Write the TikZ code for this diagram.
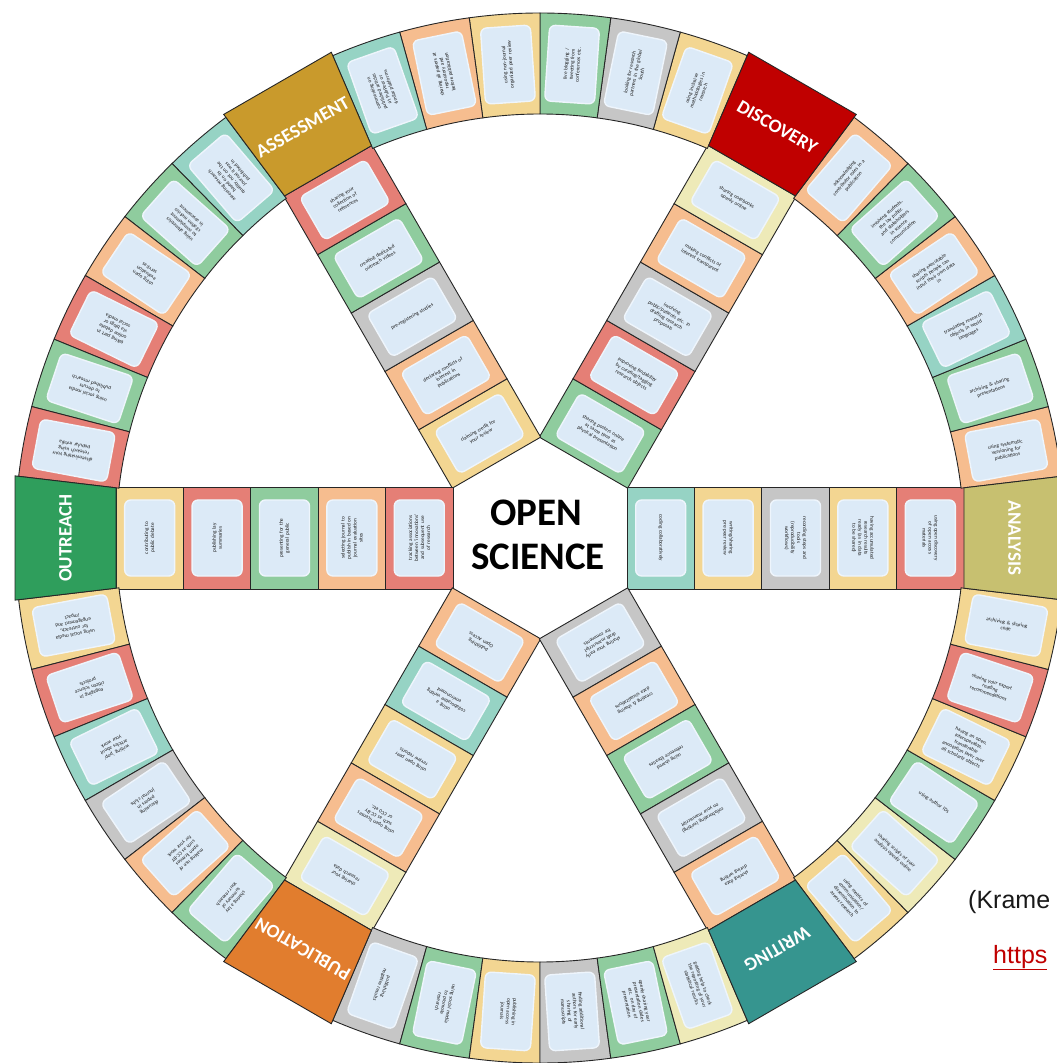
\documentclass[tikz,border=0pt]{standalone}
\usepackage{fontspec}
\setmainfont{Carlito}
\newfontfamily\credfont{Liberation Sans}
\definecolor{tred}{HTML}{E57F76}
\definecolor{tgreen}{HTML}{8FCC9E}
\definecolor{tteal}{HTML}{96D3C4}
\definecolor{tpeach}{HTML}{F6BD8F}
\definecolor{tyellow}{HTML}{F3D692}
\definecolor{tlight}{HTML}{EEEAB8}
\definecolor{tgrey}{HTML}{C6C6C6}
\definecolor{cardblue}{HTML}{DCEAF7}
\definecolor{cardedge}{HTML}{EEF5FC}
\definecolor{catolive}{HTML}{C7C070}
\definecolor{catred}{HTML}{C00000}
\definecolor{catgold}{HTML}{C99A2C}
\definecolor{catgreen}{HTML}{2F9E5C}
\definecolor{catorange}{HTML}{E17D2E}
\definecolor{catteal}{HTML}{36958F}
\definecolor{linkred}{HTML}{C00000}
\tikzset{
  tileline/.style={draw=black!85, line width=0.9pt},
  card/.style={fill=cardblue, draw=cardedge, line width=1.4pt, rounded corners=6pt,
    minimum width=76pt, minimum height=50pt, text width=66pt, align=center,
    inner sep=1pt, font=\fontsize{5.2}{6}\selectfont, text=black!90},
  cattext/.style={text=white, font=\bfseries\fontsize{19}{22}\selectfont},
  bigtext/.style={font=\bfseries\fontsize{39}{44}\selectfont, text=black},
}
% ring tile: #1 sector (0..5), #2 index in sector (0..5), #3 colour, #4 text
\newcommand{\RingTile}[4]{%
  \pgfmathsetmacro\tA{60*#1+6.75+7.75*#2}%
  \pgfmathsetmacro\tB{\tA+7.75}%
  \pgfmathsetmacro\tM{\tA+3.875}%
  \draw[tileline, fill=#3] (\tA:424pt) arc[start angle=\tA, end angle=\tB, radius=424pt]
     -- (\tB:525pt) arc[start angle=\tB, end angle=\tA, radius=525pt] -- cycle;
  \node[card, rotate=\tM] (r#1#2) at (\tM:474.5pt) {#4};
}
% spoke tile: #1 angle, #2 index from inside (0..4), #3 colour, #4 text
\newcommand{\SpokeTile}[4]{%
  \pgfmathsetmacro\sA{87+67.4*#2}%
  \pgfmathsetmacro\sB{\sA+67.4}%
  \pgfmathsetmacro\sM{\sA+33.7}%
  \pgfmathsetmacro\sR{#1-90}%
  \begin{scope}[rotate=#1]
    \draw[tileline, fill=#3] (\sA pt,-51pt) -- (\sB pt,-51pt) -- (\sB pt,51pt) -- (\sA pt,51pt) -- cycle;
  \end{scope}
  \node[card, rotate=\sR] (s#1x#2) at (#1:\sM pt) {#4};
}
% category box: #1 angle, #2 colour, #3 label
\newcommand{\CatBox}[3]{%
  \pgfmathsetmacro\cA{#1-6.75}%
  \pgfmathsetmacro\cB{#1+6.75}%
  \pgfmathsetmacro\cR{#1-90}%
  \draw[tileline, fill=#2] (\cA:426.96pt) -- (\cA:528.66pt) -- (\cB:528.66pt) -- (\cB:426.96pt) -- cycle;
  \node[cattext, rotate=\cR] (c#1) at (#1:474.5pt) {#3};
}
\begin{document}
\begin{tikzpicture}
\useasboundingbox[fill=white] (-540pt,-525pt) rectangle (517pt,538pt);
% ---------------- spokes
\SpokeTile{0}{0}{tteal}{coding collaboratively}
\SpokeTile{0}{1}{tyellow}{writing/sharing\\pre-peer review}
\SpokeTile{0}{2}{tgrey}{recording steps and\\tools\\(reproducibility\\workflows)}
\SpokeTile{0}{3}{tyellow}{having accumulated\\research results\\ready (as in data\\to be shared)}
\SpokeTile{0}{4}{tred}{using open discovery\\of open access\\materials}
\SpokeTile{60}{0}{tgreen}{sharing posters online\\at same time as\\physical presentation}
\SpokeTile{60}{1}{tred}{improving findability\\by curating/tagging\\research objects}
\SpokeTile{60}{2}{tgrey}{involving\\public/patients etc. in\\drafting research\\proposals}
\SpokeTile{60}{3}{tpeach}{making conflicts of\\interest transparent}
\SpokeTile{60}{4}{tlight}{sharing notebooks\\openly online}
\SpokeTile{120}{0}{tyellow}{claiming credit for\\your review}
\SpokeTile{120}{1}{tpeach}{declaring conflicts of\\interest in\\publications}
\SpokeTile{120}{2}{tgrey}{pre-registering studies}
\SpokeTile{120}{3}{tgreen}{creating dedicated\\outreach videos}
\SpokeTile{120}{4}{tred}{sharing your\\collection of\\references}
\SpokeTile{180}{0}{tred}{tracking associations\\between `innovations'\\and subsequent use\\of research}
\SpokeTile{180}{1}{tpeach}{selecting journal to\\publish in based on\\journal evaluation\\sites}
\SpokeTile{180}{2}{tgreen}{presenting for the\\general public}
\SpokeTile{180}{3}{tred}{publishing lay\\summaries}
\SpokeTile{180}{4}{tyellow}{contributing to\\public debate}
\SpokeTile{240}{0}{tpeach}{publishing\\Open Access}
\SpokeTile{240}{1}{tteal}{using a\\collaborative writing\\environment}
\SpokeTile{240}{2}{tyellow}{using open peer\\review reports}
\SpokeTile{240}{3}{tpeach}{using open licenses\\such as CC-BY\\or CC0 etc.}
\SpokeTile{240}{4}{tlight}{sharing your\\research data}
\SpokeTile{300}{0}{tgrey}{sharing your early\\draft manuscript\\for comments}
\SpokeTile{300}{1}{tpeach}{creating \& sharing\\data visualizations}
\SpokeTile{300}{2}{tgreen}{using shared\\reference libraries}
\SpokeTile{300}{3}{tgrey}{collaborating (writing)\\on your manuscript}
\SpokeTile{300}{4}{tpeach}{sharing data\\during writing}
% ---------------- ring
\RingTile{0}{0}{tpeach}{using systematic\\versioning for\\publications}
\RingTile{0}{1}{tgreen}{archiving \& sharing\\presentations}
\RingTile{0}{2}{tteal}{translating research\\objects in world\\languages}
\RingTile{0}{3}{tpeach}{sharing executable\\scripts people can\\input their own data\\in}
\RingTile{0}{4}{tgreen}{involving students,\\the lay public\\and stakeholders\\in science\\communication}
\RingTile{0}{5}{tpeach}{acknowledging\\contributor roles in a\\publication}
\RingTile{1}{0}{tyellow}{using inclusive\\methodologies in\\research}
\RingTile{1}{1}{tgrey}{looking for research\\partners in the global\\South}
\RingTile{1}{2}{tgreen}{live blogging /\\tweeting from\\conferences etc.}
\RingTile{1}{3}{tyellow}{using non-journal\\organized peer review}
\RingTile{1}{4}{tpeach}{sharing all papers at\\repository and\\before publication}
\RingTile{1}{5}{tteal}{commenting on\\published articles\\at PubPeer or\\similar platforms}
\RingTile{2}{0}{tteal}{assessing research\\based on its\\quality, not on the\\journal it was\\published in}
\RingTile{2}{1}{tgreen}{using altmetrics\\to complement\\citation metrics\\in assessment}
\RingTile{2}{2}{tpeach}{using open\\evaluation\\services}
\RingTile{2}{3}{tred}{taking part in\\online debate\\via blogs or\\social media}
\RingTile{2}{4}{tgreen}{using social media\\to discuss\\published research}
\RingTile{2}{5}{tred}{disseminating your\\research using\\popular media}
\RingTile{3}{0}{tyellow}{using social media\\for outreach,\\engagement and\\impact}
\RingTile{3}{1}{tred}{engaging in\\citizen science\\projects}
\RingTile{3}{2}{tteal}{writing `pop'\\articles about\\your work}
\RingTile{3}{3}{tgrey}{discussing\\papers in\\journal clubs}
\RingTile{3}{4}{tpeach}{making use of\\open licenses\\such as CC-BY\\for your work}
\RingTile{3}{5}{tgreen}{sharing a lay\\summary of\\your research}
\RingTile{4}{0}{tgrey}{publishing\\negative results}
\RingTile{4}{1}{tgreen}{using social media\\to promote\\research}
\RingTile{4}{2}{tyellow}{publishing in\\open access\\journals}
\RingTile{4}{3}{tgrey}{finding additional\\authors for early\\sharing of\\manuscripts}
\RingTile{4}{4}{tgreen}{openly sharing your\\presentation slides\\etc. on day of\\presentation}
\RingTile{4}{5}{tlight}{getting help to check\\the reporting of your\\statistical results}
\RingTile{5}{0}{tyellow}{using metrics of\\communication/\\dissemination to\\assess research}
\RingTile{5}{1}{tlight}{sharing scripts of your\\analysis openly online}
\RingTile{5}{2}{tgreen}{using author IDs}
\RingTile{5}{3}{tyellow}{having an open,\\interoperable,\\transferable\\annotation layer over\\all scholarly objects}
\RingTile{5}{4}{tred}{sharing your expert\\reading\\recommendations}
\RingTile{5}{5}{tyellow}{archiving \& sharing\\code}
% ---------------- categories
\CatBox{0}{catolive}{ANALYSIS}
\CatBox{60}{catred}{DISCOVERY}
\CatBox{120}{catgold}{ASSESSMENT}
\CatBox{180}{catgreen}{OUTREACH}
\CatBox{240}{catorange}{PUBLICATION}
\CatBox{300}{catteal}{WRITING}
% ---------------- centre
\node[bigtext] (open) at (-4pt,25pt) {OPEN};
\node[bigtext] (science) at (-2pt,-19pt) {SCIENCE};
% ---------------- credit
\node[anchor=base west, inner sep=0pt, font=\credfont\fontsize{25}{30}\selectfont, text=black!90] (cite) at (428pt,-370pt) {(Krame};
\node[anchor=base west, inner sep=0pt, font=\credfont\fontsize{25}{30}\selectfont, text=linkred] (link) at (453pt,-425pt) {\underline{https}};
\end{tikzpicture}
\end{document}
